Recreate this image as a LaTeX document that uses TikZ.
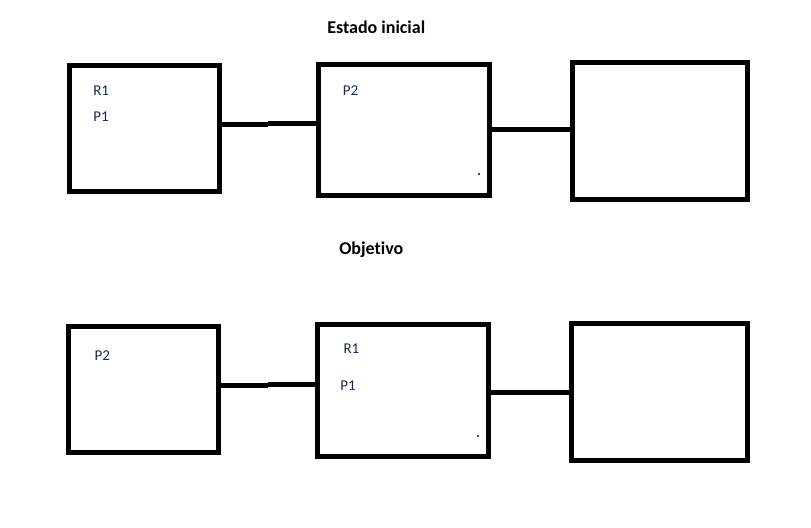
\documentclass[tikz,border=0pt]{standalone}
\usepackage{fontspec}
\setmainfont[Ligatures={NoCommon,NoContextual}]{Carlito}
\definecolor{lbl}{RGB}{25,40,80}
\begin{document}
\begin{tikzpicture}[x=0.75pt,y=-0.75pt,
  box/.style={draw=black,line width=3.75pt,inner sep=0pt,outer sep=0pt,fill=none},
  wire/.style={draw=black,line width=3.75pt},
  lbl/.style={anchor=base west,inner sep=0pt,text=lbl,font=\fontsize{11.25pt}{13pt}\selectfont},
  ttl/.style={anchor=base west,inner sep=0pt,text=black,font=\fontsize{13.5pt}{16pt}\selectfont\bfseries},
  speck/.style={fill=black!70,draw=none,minimum size=1.5pt,inner sep=0pt}]
\useasboundingbox[fill=white] (0,0) rectangle (811,528);
% titles
\node[ttl] (t1) at (327,33.3) {Estado inicial};
\node[ttl] (t2) at (339,254) {Objetivo};
% top row
\node[box,minimum width={150*0.75pt},minimum height={126*0.75pt}] (a) at (144.5,128.5) {};
\node[box,minimum width={171*0.75pt},minimum height={131*0.75pt}] (b) at (404,130) {};
\node[box,minimum width={175*0.75pt},minimum height={137*0.75pt}] (c) at (660,131) {};
\coordinate (m1) at (268,124.5);
\coordinate (m2) at (268,123.5);
\draw[wire] (a.east |- m1) -- (m1);
\draw[wire] (m2) -- (b.west |- m2);
\draw[wire] (b.east) -- (c.west |- b.east);
\node[lbl] (r1a) at (93,96) {R1};
\node[lbl] (p1a) at (93,121.3) {P1};
\node[lbl] (p2a) at (342.7,95.5) {P2};
\node[speck] (s1) at (479,174) {};
% bottom row
\node[box,minimum width={150*0.75pt},minimum height={126*0.75pt}] (d) at (143.5,389.5) {};
\node[box,minimum width={171*0.75pt},minimum height={132*0.75pt}] (e) at (403,390.5) {};
\node[box,minimum width={176*0.75pt},minimum height={137*0.75pt}] (f) at (659.5,392) {};
\coordinate (m3) at (268,385);
\coordinate (m4) at (268,384);
\coordinate (m5) at (530,392);
\draw[wire] (d.east |- m3) -- (m3);
\draw[wire] (m4) -- (e.west |- m4);
\draw[wire] (e.east |- m5) -- (f.west |- m5);
\node[lbl] (p2b) at (94.3,360.5) {P2};
\node[lbl] (r1b) at (343.3,353.3) {R1};
\node[lbl] (p1b) at (340,390.7) {P1};
\node[speck] (s2) at (478,436) {};
\end{tikzpicture}
\end{document}
